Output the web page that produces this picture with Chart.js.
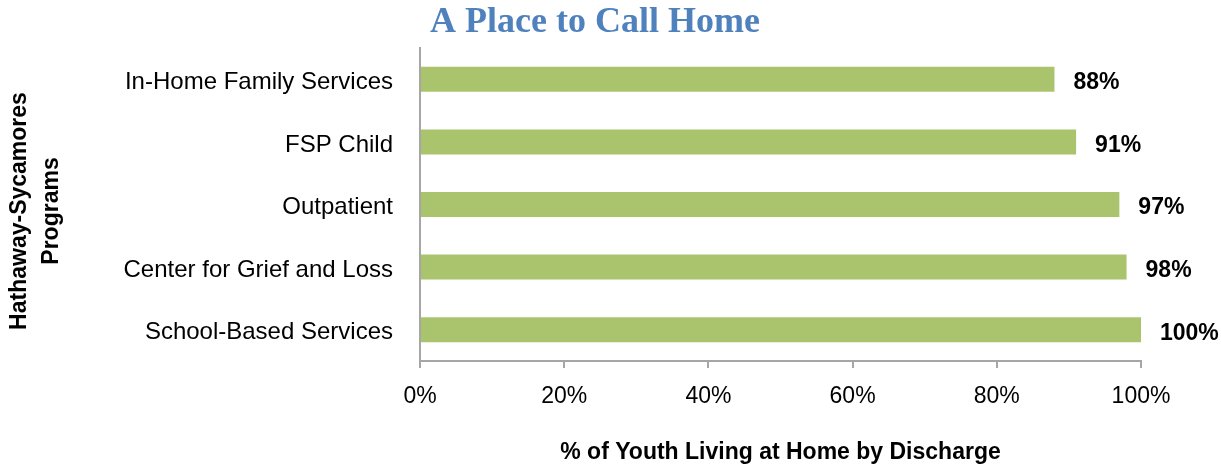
<!DOCTYPE html>
<html>
<head>
<meta charset="utf-8">
<script src="https://cdn.jsdelivr.net/npm/chart.js@4.4.0/dist/chart.umd.min.js"></script>
<style>
html,body{margin:0;padding:0;background:#fff;}
#wrap{width:1221px;height:466px;}
</style>
</head>
<body>
<div id="wrap"><canvas id="c" width="1221" height="466"></canvas></div>
<script>
const chartTitle = 'A Place to Call Home';
const categories = ['In-Home Family Services', 'FSP Child', 'Outpatient', 'Center for Grief and Loss', 'School-Based Services'];
const values = [88, 91, 97, 98, 100];
const tickValues = [0, 20, 40, 60, 80, 100];
const xAxisTitle = '% of Youth Living at Home by Discharge';
const yAxisTitle = ['Hathaway-Sycamores', 'Programs'];

const FONT = '"Liberation Sans", Arial, sans-serif';

const titlePlugin = {
  id: 'customTitle',
  afterDraw(chart) {
    const ctx = chart.ctx;
    ctx.save();
    ctx.font = 'bold 36px "Liberation Serif", "DejaVu Serif", serif';
    ctx.fillStyle = '#4F81BD';
    ctx.textAlign = 'center';
    ctx.textBaseline = 'middle';
    ctx.fillText(chartTitle, 595, 23);
    // rotated y-axis title
    ctx.font = 'bold 23px ' + FONT;
    ctx.fillStyle = '#000';
    ctx.translate(0, 211);
    ctx.rotate(-Math.PI / 2);
    ctx.fillText(yAxisTitle[0], 0, 20);
    ctx.fillText(yAxisTitle[1], 0, 52);
    ctx.restore();
  }
};

const labelPlugin = {
  id: 'valueLabels',
  afterDatasetsDraw(chart) {
    const ctx = chart.ctx;
    const meta = chart.getDatasetMeta(0);
    ctx.save();
    ctx.font = 'bold 23px ' + FONT;
    ctx.fillStyle = '#000';
    ctx.textAlign = 'left';
    ctx.textBaseline = 'middle';
    meta.data.forEach((el, i) => {
      ctx.fillText(values[i] + '%', el.x + 19, el.y + 3.5);
    });
    ctx.restore();
  }
};

new Chart(document.getElementById('c'), {
  type: 'bar',
  data: {
    labels: categories,
    datasets: [{
      data: values,
      backgroundColor: '#AAC46E',
      borderWidth: 0,
      barPercentage: 0.8,
      categoryPercentage: 0.5
    }]
  },
  options: {
    indexAxis: 'y',
    responsive: false,
    animation: false,
    layout: { padding: { left: 0, right: 80, top: 48, bottom: 0 } },
    plugins: {
      legend: { display: false },
      tooltip: { enabled: false },
      title: { display: false }
    },
    scales: {
      x: {
        min: 0,
        max: 100,
        afterBuildTicks(scale) {
          scale.ticks = tickValues.map(v => ({ value: v }));
        },
        afterFit(scale) { scale.height = 105; },
        ticks: {
          callback: v => v + '%',
          font: { family: FONT, size: 23 },
          color: '#000',
          padding: 15,
          maxRotation: 0
        },
        grid: {
          display: true,
          drawOnChartArea: false,
          drawTicks: true,
          tickLength: 7,
          color: '#A6A6A6',
          tickColor: '#A6A6A6',
          lineWidth: 2
        },
        border: { display: true, color: '#A6A6A6', width: 2 },
        title: {
          display: true,
          text: xAxisTitle,
          font: { family: FONT, size: 23, weight: 'bold', lineHeight: 1.2 },
          color: '#000',
          padding: { top: 0, bottom: 0 }
        }
      },
      y: {
        afterFit(scale) { scale.width = 420; },
        ticks: {
          font: { family: FONT, size: 24 },
          color: '#000',
          padding: 19,
          labelOffset: 3
        },
        grid: { display: false },
        border: { display: true, color: '#A6A6A6', width: 2 },
        title: { display: false }
      }
    }
  },
  plugins: [titlePlugin, labelPlugin]
});
</script>
</body>
</html>
